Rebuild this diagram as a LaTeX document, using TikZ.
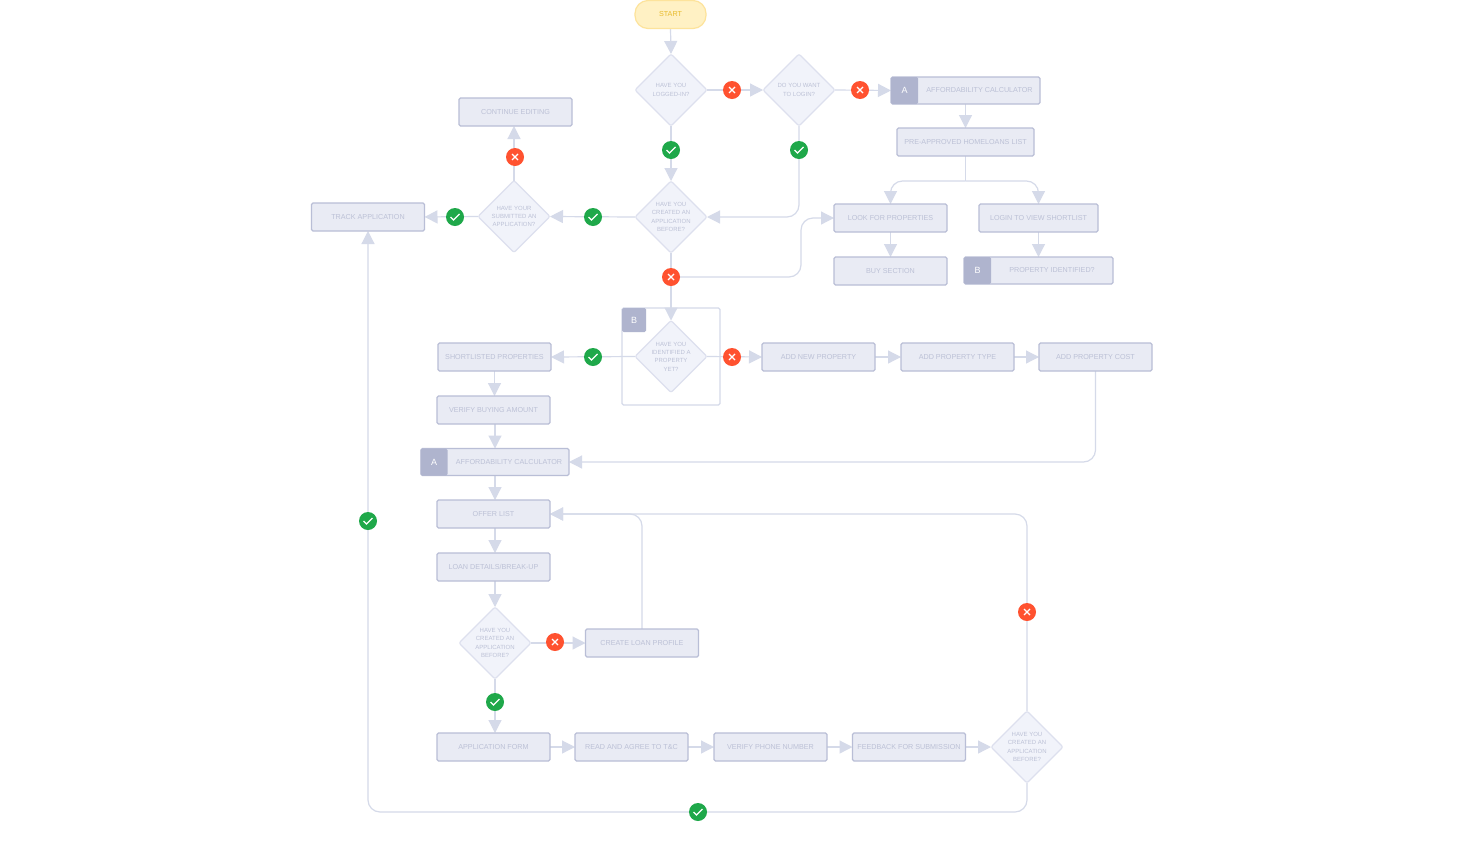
\documentclass[tikz,border=0pt]{standalone}
\usepackage{fontspec}
\setmainfont{Liberation Sans}
\usetikzlibrary{arrows.meta,shapes.geometric,backgrounds}
\definecolor{flowc}{HTML}{D5DAE9}
\definecolor{boxfill}{HTML}{E9EBF4}
\definecolor{boxline}{HTML}{B9BED6}
\definecolor{txtc}{HTML}{BCC1D6}
\definecolor{dfill}{HTML}{F1F3FA}
\definecolor{dline}{HTML}{DDE0EE}
\definecolor{tabc}{HTML}{AFB4CE}
\definecolor{startf}{HTML}{FFF1C4}
\definecolor{startl}{HTML}{FDE39B}
\definecolor{startt}{HTML}{E8BC2E}
\definecolor{redc}{HTML}{FF5230}
\definecolor{greenc}{HTML}{1FA84A}
\tikzset{
 x=1pt,y=-1pt,
 every node/.style={outer sep=0pt,inner sep=0pt},
 box/.style={draw=boxline,fill=boxfill,line width=1.2pt,rounded corners=1.5pt,minimum width=#1,minimum height=28pt,text=txtc,font=\fontsize{7.2}{9}\selectfont},
 box/.default=113pt,
 lab/.style={text=txtc,font=\fontsize{7.2}{9}\selectfont},
 tabn/.style={fill=tabc,rounded corners=1.5pt,minimum width=27pt,minimum height=27pt,text=white,font=\fontsize{9}{11}\selectfont},
 dec/.style={diamond,aspect=1,draw=dline,fill=dfill,line width=1.1pt,rounded corners=2pt,minimum width=72pt,minimum height=72pt,text=txtc,align=center,font=\fontsize{6}{8.4}\selectfont},
 flow/.style={draw=flowc,line width=1.2pt,-{Triangle[length=13pt,width=13pt,fill=flowc]},rounded corners=12pt},
 plain/.style={draw=flowc,line width=1.2pt,rounded corners=12pt},
 ok/.style={circle,fill=greenc,minimum size=18pt,path picture={\draw[white,line width=1.1pt,shift={(path picture bounding box.center)}] (-4.5,0)--(-1.5,3)--(4.5,-3);}},
 no/.style={circle,fill=redc,minimum size=18pt,path picture={\draw[white,line width=1.1pt,shift={(path picture bounding box.center)}] (-3,-3)--(3,3) (-3,3)--(3,-3);}},
}
\begin{document}
\begin{tikzpicture}
\useasboundingbox (0,0) rectangle (1464,844);
\begin{scope}[on background layer]
\fill[white] (0,0) rectangle (1464,844);
\end{scope}
% frame around B
\node[draw=flowc,line width=1.2pt,rounded corners=1.5pt,minimum width=98pt,minimum height=97pt] (frameB) at (671,356.5) {};
\node[fill=tabc,rounded corners=1.5pt,minimum width=24pt,minimum height=24pt,text=white,font=\fontsize{9}{11}\selectfont] (tabF) at (634,320) {B};
% start
\node[draw=startl,fill=startf,line width=1.2pt,rounded corners=13pt,minimum width=71pt,minimum height=28pt,text=startt,font=\fontsize{7.2}{9}\selectfont] (start) at (670.5,14.5) {START};
% decisions
\node[dec] (d1) at (671,90) {HAVE YOU\\LOGGED-IN?};
\node[dec] (d2) at (799,90) {DO YOU WANT\\TO LOGIN?};
\node[dec] (d3) at (671,217) {HAVE YOU\\CREATED AN\\APPLICATION\\BEFORE?};
\node[dec] (d4) at (514,216.5) {HAVE YOUR\\SUBMITTED AN\\APPLICATION?};
\node[dec] (d5) at (671,356.5) {HAVE YOU\\IDENTIFIED A\\PROPERTY\\YET?};
\node[dec] (d6) at (495,643) {HAVE YOU\\CREATED AN\\APPLICATION\\BEFORE?};
\node[dec] (d7) at (1027,747) {HAVE YOU\\CREATED AN\\APPLICATION\\BEFORE?};
% boxes
\node[box] (cont) at (515.5,112) {CONTINUE EDITING};
\node[box] (track) at (368,217) {TRACK APPLICATION};
\node[box=137pt] (pre) at (965.5,142) {PRE-APPROVED HOMELOANS LIST};
\node[box] (look) at (890.5,218) {LOOK FOR PROPERTIES};
\node[box=119pt] (login) at (1038.5,218) {LOGIN TO VIEW SHORTLIST};
\node[box] (buy) at (890.5,271) {BUY SECTION};
\node[box] (short) at (494.5,357) {SHORTLISTED PROPERTIES};
\node[box] (verify) at (493.5,410) {VERIFY BUYING AMOUNT};
\node[box] (offer) at (493.5,514) {OFFER LIST};
\node[box] (loan) at (493.5,567) {LOAN DETAILS/BREAK-UP};
\node[box] (create) at (642,643) {CREATE LOAN PROFILE};
\node[box] (form) at (493.5,747) {APPLICATION FORM};
\node[box] (read) at (631.5,747) {READ AND AGREE TO T\&C};
\node[box] (phone) at (770.5,747) {VERIFY PHONE NUMBER};
\node[box] (feed) at (909,747) {FEEDBACK FOR SUBMISSION};
\node[box] (addn) at (818.5,357) {ADD NEW PROPERTY};
\node[box] (addt) at (957.5,357) {ADD PROPERTY TYPE};
\node[box] (addc) at (1095.5,357) {ADD PROPERTY COST};
% tabbed boxes
\node[box=149pt,minimum height=27pt] (calcT) at (965.5,90.5) {};
\node[tabn] (tabT) at (904.5,90.5) {A};
\node[lab] (labT) at (979.5,90.5) {AFFORDABILITY CALCULATOR};
\node[box=149pt,minimum height=27pt] (prop) at (1038.5,270.5) {};
\node[tabn] (tabP) at (977.5,270.5) {B};
\node[lab] (labP) at (1052,270.5) {PROPERTY IDENTIFIED?};
\node[box=148pt,minimum height=27pt] (calcM) at (495,462) {};
\node[tabn] (tabM) at (434,462) {A};
\node[lab] (labM) at (509,462) {AFFORDABILITY CALCULATOR};
% badges
\node[no] (x1) at (732,90) {};
\node[no] (x2) at (860,90) {};
\node[ok] (c1) at (671,150) {};
\node[ok] (c2) at (799,150) {};
\node[ok] (c3) at (593,217) {};
\node[ok] (c4) at (455,217) {};
\node[no] (x3) at (515,157) {};
\node[no] (x4) at (671,277) {};
\node[ok] (c5) at (593,357) {};
\node[no] (x5) at (732,357) {};
\node[ok] (c6) at (368,521) {};
\node[no] (x6) at (555,642) {};
\node[ok] (c7) at (495,702) {};
\node[no] (x7) at (1027,612) {};
\node[ok] (c8) at (698,812) {};
% connectors
\begin{scope}[on background layer]
\draw[flow] (start.south) -- (d1.north);
\draw[flow] (d1.east) -- (d2.west);
\draw[flow] (d2.east) -- (tabT.west);
\draw[flow] (d1.south) -- (d3.north);
\draw[flow] (d2.south) |- (d3.east);
\draw[flow] (d3.west) -- (d4.east);
\draw[flow] (d4.north) -- (d4.north |- cont.south);
\draw[flow] (d4.west) -- (track.east);
\draw[flow] (d3.south) -- (d5.north);
\draw[flow] (x4.center) -- (801,277) -- (801,218) -- (look.west);
\draw[flow] (calcT.south) -- (pre.north);
\draw[plain] (pre.south) -- (965.5,181);
\draw[flow] (pre.south |- 0,181) -| (look.north);
\draw[flow] (pre.south |- 0,181) -| (login.north);
\draw[flow] (look.south) -- (buy.north);
\draw[flow] (login.south) -- (prop.north);
\draw[flow] (d5.west) -- (short.east);
\draw[flow] (d5.east) -- (addn.west);
\draw[flow] (addn.east) -- (addt.west);
\draw[flow] (addt.east) -- (addc.west);
\draw[flow] (addc.south) |- (calcM.east);
\draw[flow] (short.south) -- (short.south |- verify.north);
\draw[flow] (verify.south -| calcM.north) -- (calcM.north);
\draw[flow] (calcM.south) -- (calcM.south |- offer.north);
\draw[flow] (offer.south -| calcM.south) -- (calcM.south |- loan.north);
\draw[flow] (loan.south -| d6.north) -- (d6.north);
\draw[flow] (d6.east) -- (create.west);
\draw[flow] (create.north) |- (offer.east);
\draw[flow] (d6.south) -- (d6.south |- form.north);
\draw[flow] (form.east) -- (read.west);
\draw[flow] (read.east) -- (phone.west);
\draw[flow] (phone.east) -- (feed.west);
\draw[flow] (feed.east) -- (d7.west);
\draw[flow] (d7.north) |- (offer.east);
\draw[flow] (d7.south) -- (1027,812) -- (368,812) -- (track.south);
\end{scope}
\end{tikzpicture}
\end{document}
